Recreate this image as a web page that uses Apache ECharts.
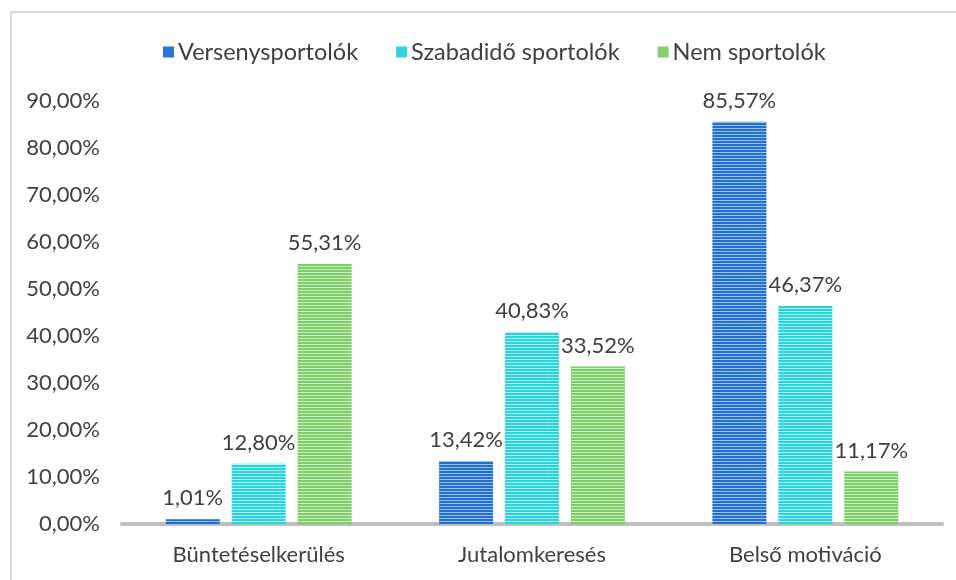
<!DOCTYPE html>
<html>
  <head>
    <meta charset="UTF-8" />
    <title>Motiváció</title>
    <script src="https://cdn.jsdelivr.net/npm/echarts@6/dist/echarts.min.js"></script>
    <style>
      body { margin: 0; background: #fff; }
    </style>
  </head>
  <body>
    <div id="chart" style="width: 956px; height: 580px"></div>
    <script>
      const categories = ['Büntetéselkerülés', 'Jutalomkeresés', 'Belső motiváció'];
      const versenysportolok = [1.01, 13.42, 85.57];
      const szabadido = [12.80, 40.83, 46.37];
      const nemSportolok = [55.31, 33.52, 11.17];
      const seriesNames = ['Versenysportolók', 'Szabadidő sportolók', 'Nem sportolók'];

      // horizontal stripes like the original fill
      function stripes(dark, light) {
        const c = document.createElement('canvas');
        c.width = 4; c.height = 3;
        const ctx = c.getContext('2d');
        ctx.fillStyle = dark;
        ctx.fillRect(0, 0, 4, 2);
        ctx.fillStyle = light;
        ctx.fillRect(0, 2, 4, 1);
        return { image: c, repeat: 'repeat' };
      }

      const fills = [
        stripes('#1f6fd0', '#9cc1ee'),
        stripes('#27d3df', '#b2f0f4'),
        stripes('#7ccf67', '#cdeec3')
      ];
      const plain = ['#2a74d2', '#2fd3de', '#82d16e'];

      const fmt = v => v.toFixed(2).replace('.', ',') + '%';
      const font = 'Lato';
      const fs = 22;

      function bar(i, data) {
        return {
          name: seriesNames[i],
          type: 'bar',
          data: data,
          barGap: '22%',
          barCategoryGap: '32%',
          itemStyle: { color: fills[i] },
          label: {
            show: true,
            position: 'top',
            distance: 10,
            formatter: p => fmt(p.value),
            color: '#404040',
            fontFamily: font,
            fontSize: fs
          }
        };
      }

      const chart = echarts.init(document.getElementById('chart'));
      chart.setOption({
        animation: false,
        textStyle: { fontFamily: font },
        graphic: [
          { type: 'line', shape: { x1: 11, y1: 12, x2: 956, y2: 12 }, style: { stroke: '#d9d9d9', lineWidth: 2 } },
          { type: 'line', shape: { x1: 11, y1: 12, x2: 11, y2: 580 }, style: { stroke: '#d9d9d9', lineWidth: 2 } }
        ],
        legend: {
          top: 35,
          left: 158,
          itemWidth: 11,
          itemHeight: 11,
          itemGap: 38,
          icon: 'rect',
          data: seriesNames.map((n, i) => ({ name: n, itemStyle: { color: plain[i] } })),
          textStyle: { color: '#404040', fontSize: 23.5, fontFamily: font, padding: [0, 0, 0, -1] }
        },
        grid: { left: 122, right: 14, top: 101, bottom: 56 },
        xAxis: {
          type: 'category',
          data: categories,
          axisLine: { lineStyle: { color: '#bfbfbf', width: 4 } },
          axisTick: { show: false },
          axisLabel: { color: '#404040', fontSize: fs, fontFamily: font, margin: 20 }
        },
        yAxis: {
          type: 'value',
          min: 0,
          max: 90,
          interval: 10,
          splitLine: { show: false },
          axisLine: { show: false },
          axisTick: { show: false },
          axisLabel: { color: '#404040', fontSize: fs, fontFamily: font, margin: 22, formatter: v => fmt(v) }
        },
        series: [bar(0, versenysportolok), bar(1, szabadido), bar(2, nemSportolok)]
      });
    </script>
  </body>
</html>
